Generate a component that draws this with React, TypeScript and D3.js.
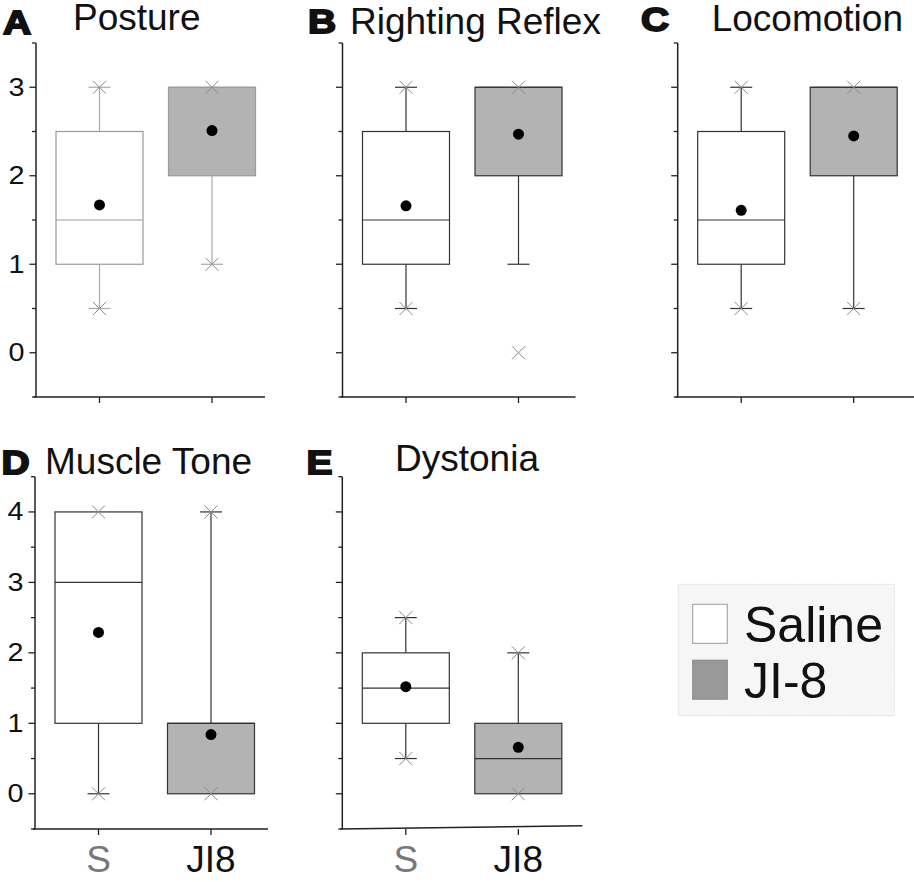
import React from "react";
import * as d3 from "d3";

// ---------- data ----------
const groups = ["S", "JI8"];
const panelLetters = ["A", "B", "C", "D", "E"];
const panelTitles = ["Posture", "Righting Reflex", "Locomotion", "Muscle Tone", "Dystonia"];

const salineMin = [0.5, 0.5, 0.5, 0, 0.5];
const salineWhiskerLow = [0.5, 0.5, 0.5, 0, 0.5];
const salineQ1 = [1, 1, 1, 1, 1];
const salineMedian = [1.5, 1.5, 1.5, 3, 1.5];
const salineQ3 = [2.5, 2.5, 2.5, 4, 2];
const salineWhiskerHigh = [3, 3, 3, 4, 2.5];
const salineMax = [3, 3, 3, 4, 2.5];
const salineMean = [1.67, 1.66, 1.61, 2.29, 1.52];

const ji8Min = [1, 0, 0.5, 0, 0];
const ji8WhiskerLow = [1, 1, 0.5, 0, 0];
const ji8Q1 = [2, 2, 2, 0, 0];
const ji8Median = [3, 3, 3, 1, 0.5];
const ji8Q3 = [3, 3, 3, 1, 1];
const ji8WhiskerHigh = [3, 3, 3, 4, 2];
const ji8Max = [3, 3, 3, 4, 2];
const ji8Mean = [2.51, 2.47, 2.45, 0.84, 0.66];

const topDomain = [-0.5, 3.5];
const bottomDomain = [-0.5, 4.5];
const topTickLabels = [0, 1, 2, 3];
const bottomTickLabels = [0, 1, 2, 3, 4];
const legendLabels = ["Saline", "JI-8"];

// ---------- layout ----------
const panelX = [36, 342.5, 677.7, 35, 342.3];
const panelRow = [0, 0, 0, 1, 1];
const rowRange = [
  [397, 43],
  [829, 476.7],
];
const titleX = [73, 350, 711.7, 45, 395];
const titleY = [30, 34, 31, 474, 471];
const letterX = [3, 308, 641, 1.5, 306.5];
const letterY = [34, 33, 31, 474, 474];
const axisLen = [229, 233, 240, 233, 240];
const showYLabels = [true, false, false, true, false];
const showXLabels = [false, false, false, true, true];
const slantEnd = [0, 0, 0, 0, -3.3];

const FONT = "'Liberation Sans', Arial, Helvetica, sans-serif";
const BOX_W = 87;
const CAP_W = 22;
const XM = 6.5;

function XMark({ cx, cy }: { cx: number; cy: number }) {
  return (
    <g stroke="#8a8a8a" strokeWidth={1}>
      <line x1={cx - XM} y1={cy - XM} x2={cx + XM} y2={cy + XM} />
      <line x1={cx - XM} y1={cy + XM} x2={cx + XM} y2={cy - XM} />
    </g>
  );
}

function Panel({ i }: { i: number }) {
  const row = panelRow[i];
  const ox = panelX[i];
  const domain = row === 0 ? topDomain : bottomDomain;
  const y = d3.scaleLinear().domain(domain).range(rowRange[row]);
  const x = d3.scalePoint<string>().domain(groups).range([ox + 63.5, ox + 176]);
  const minorTicks = d3.range(domain[0], domain[1] + 0.001, 0.5);
  const labels = row === 0 ? topTickLabels : bottomTickLabels;
  const light = i === 0;
  const boxStroke = light ? "#9a9a9a" : "#333";
  const whiskerStroke = light ? "#aaa" : "#333";
  const axisStroke = "#222";
  const yBottom = y(domain[0]);
  const yTop = y(domain[1]);

  const stats = [
    {
      g: "S",
      min: salineMin[i], wl: salineWhiskerLow[i], q1: salineQ1[i], med: salineMedian[i],
      q3: salineQ3[i], wh: salineWhiskerHigh[i], max: salineMax[i], mean: salineMean[i],
      fill: "#ffffff",
    },
    {
      g: "JI8",
      min: ji8Min[i], wl: ji8WhiskerLow[i], q1: ji8Q1[i], med: ji8Median[i],
      q3: ji8Q3[i], wh: ji8WhiskerHigh[i], max: ji8Max[i], mean: ji8Mean[i],
      fill: "#b3b3b3",
    },
  ];

  return (
    <g>
      {/* title */}
      <text
        x={letterX[i]}
        y={letterY[i]}
        fontFamily={FONT}
        fontWeight="bold"
        fontSize={33}
        fill="#111"
        stroke="#111"
        strokeWidth={1.8}
        transform={`translate(${letterX[i]},0) scale(1.18,1) translate(${-letterX[i]},0)`}
      >
        {panelLetters[i]}
      </text>
      <text x={titleX[i]} y={titleY[i]} fontFamily={FONT} fontSize={37} fill="#111">
        {panelTitles[i]}
      </text>

      {/* boxes */}
      {stats.map((s) => {
        const cx = x(s.g)!;
        return (
          <g key={s.g}>
            {s.wl < s.q1 && (
              <>
                <line x1={cx} x2={cx} y1={y(s.q1)} y2={y(s.wl)} stroke={whiskerStroke} strokeWidth={1.2} />
                <line x1={cx - CAP_W / 2} x2={cx + CAP_W / 2} y1={y(s.wl)} y2={y(s.wl)} stroke={whiskerStroke} strokeWidth={1.2} />
              </>
            )}
            {s.wh > s.q3 && (
              <>
                <line x1={cx} x2={cx} y1={y(s.q3)} y2={y(s.wh)} stroke={whiskerStroke} strokeWidth={1.2} />
                <line x1={cx - CAP_W / 2} x2={cx + CAP_W / 2} y1={y(s.wh)} y2={y(s.wh)} stroke={whiskerStroke} strokeWidth={1.2} />
              </>
            )}
            <rect
              x={cx - BOX_W / 2}
              y={y(s.q3)}
              width={BOX_W}
              height={y(s.q1) - y(s.q3)}
              fill={s.fill}
              stroke={boxStroke}
              strokeWidth={1.2}
            />
            <line x1={cx - BOX_W / 2} x2={cx + BOX_W / 2} y1={y(s.med)} y2={y(s.med)} stroke={boxStroke} strokeWidth={1.2} />
            <XMark cx={cx} cy={y(s.min)} />
            <XMark cx={cx} cy={y(s.max)} />
            <circle cx={cx} cy={y(s.mean)} r={5.5} fill="#000" />
          </g>
        );
      })}

      {/* y axis */}
      <line x1={ox} x2={ox} y1={yTop} y2={yBottom} stroke={axisStroke} strokeWidth={1.5} />
      {minorTicks.map((t) => {
        const major = Math.abs(t - Math.round(t)) < 1e-6;
        return (
          <line key={t} x1={ox - (major ? 6.5 : 4)} x2={ox} y1={y(t)} y2={y(t)} stroke={axisStroke} strokeWidth={1.3} />
        );
      })}
      {showYLabels[i] &&
        labels.map((t) => (
          <text
            key={t}
            transform={`translate(${ox - 11.5},${y(t) + 8.5}) scale(1.15,1)`}
            textAnchor="end"
            fontFamily={FONT}
            fontSize={25}
            fill="#111"
          >
            {t}
          </text>
        ))}

      {/* x axis */}
      <line
        x1={ox - 2}
        x2={ox + axisLen[i]}
        y1={yBottom}
        y2={yBottom + slantEnd[i]}
        stroke={axisStroke}
        strokeWidth={1.5}
      />
      {groups.map((g) => (
        <line key={g} x1={x(g)!} x2={x(g)!} y1={yBottom} y2={yBottom + 6} stroke={axisStroke} strokeWidth={1.3} />
      ))}
      {showXLabels[i] &&
        groups.map((g, k) => (
          <text
            key={g}
            x={x(g)!}
            y={871.5}
            textAnchor="middle"
            fontFamily={FONT}
            fontSize={37}
            fill={k === 0 ? "#777" : "#111"}
          >
            {g}
          </text>
        ))}
    </g>
  );
}

function Legend() {
  const fills = ["#ffffff", "#999999"];
  const strokes = ["#999", "#888"];
  const rowY = [604.3, 660.2];
  return (
    <g>
      <rect x={678.3} y={584.3} width={216} height={131.4} fill="#f6f6f6" stroke="#d0d0d0" strokeDasharray="1,1.5" />
      {legendLabels.map((l, k) => (
        <g key={l}>
          <rect x={692.7} y={rowY[k]} width={34.6} height={39} fill={fills[k]} stroke={strokes[k]} strokeWidth={1} />
          <text x={744} y={rowY[k] + 37.5} fontFamily={FONT} fontSize={50} fill="#111">
            {l}
          </text>
        </g>
      ))}
    </g>
  );
}

export default function App() {
  return (
    <svg width={914} height={882} style={{ display: "block", position: "absolute", left: 0, top: 0, background: "#fff" }}>
      <rect x={0} y={0} width={914} height={882} fill="#fff" />
      {panelTitles.map((_, i) => (
        <Panel key={i} i={i} />
      ))}
      <Legend />
    </svg>
  );
}
